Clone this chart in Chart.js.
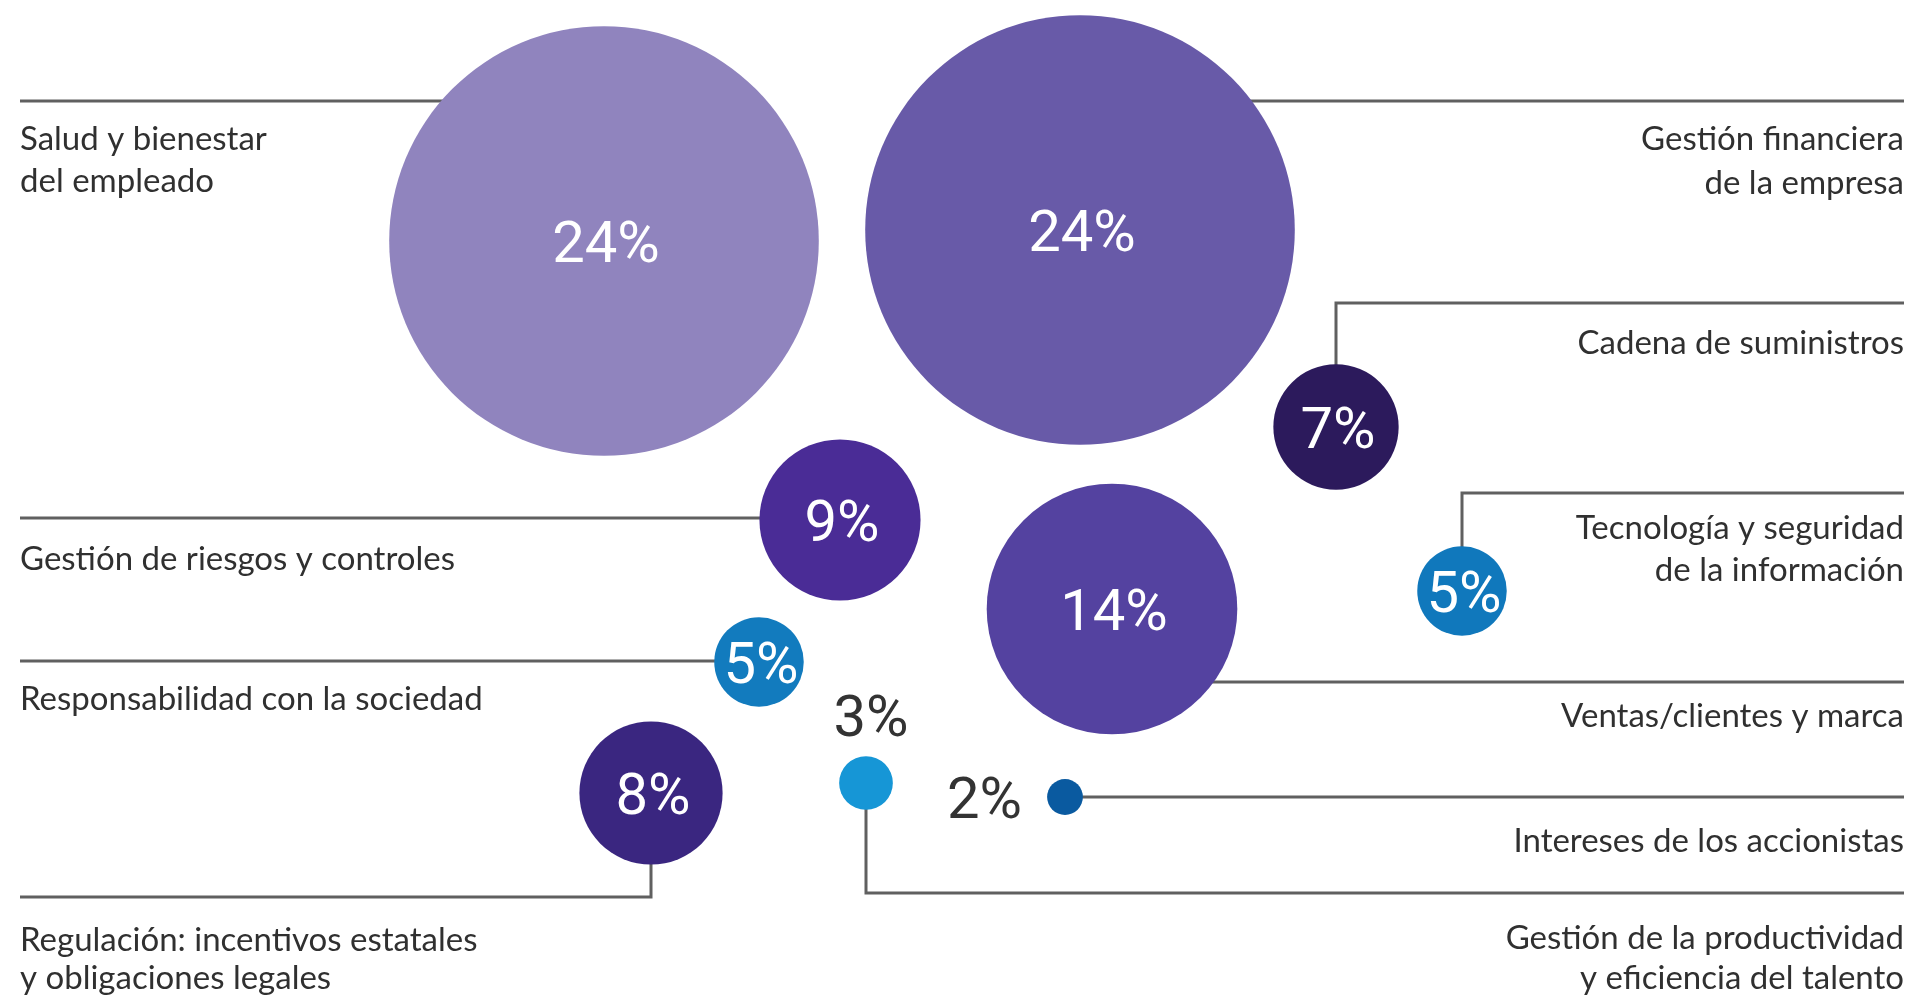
<!DOCTYPE html>
<html lang="es">
<head>
<meta charset="utf-8">
<title>Prioridades</title>
<script src="https://cdn.jsdelivr.net/npm/chart.js@4/dist/chart.umd.min.js"></script>
<style>
    html, body { margin: 0; padding: 0; background: #ffffff; }
    #wrap { width: 1917px; height: 995px; position: relative; }
</style>
</head>
<body>
<div id="wrap"><canvas id="bubbleChart"></canvas></div>
<script>
// Data
const categories = [
    ['Salud y bienestar', 'del empleado'],
    ['Gestión financiera', 'de la empresa'],
    ['Cadena de suministros'],
    ['Tecnología y seguridad', 'de la información'],
    ['Ventas/clientes y marca'],
    ['Intereses de los accionistas'],
    ['Gestión de la productividad', 'y eficiencia del talento'],
    ['Regulación: incentivos estatales', 'y obligaciones legales'],
    ['Responsabilidad con la sociedad'],
    ['Gestión de riesgos y controles']
];
const shares = [24, 24, 7, 5, 14, 2, 3, 8, 5, 9];

const colors = ['#9084be', '#685aa8', '#2c1a5c', '#1078bc', '#5442a0',
                '#0a5aa0', '#1696d6', '#3a2680', '#127bbe', '#4a2c96'];

// Layout of the infographic (design units, same grid as the page)
const bubbleX = [604, 1080, 1336, 1462, 1112, 1065, 866, 651, 759, 840];
const bubbleY = [241, 230, 427, 591, 609, 797, 783, 793, 662, 520];
const radiusPerPoint = 8.95; // bubble radius grows linearly with the share

const leaders = [
    [[604, 101], [20, 101]],
    [[1080, 101], [1904, 101]],
    [[1336, 427], [1336, 303], [1904, 303]],
    [[1462, 591], [1462, 493], [1904, 493]],
    [[1112, 682], [1904, 682]],
    [[1065, 797], [1904, 797]],
    [[866, 783], [866, 893], [1904, 893]],
    [[651, 793], [651, 897], [20, 897]],
    [[759, 661], [20, 661]],
    [[840, 518], [20, 518]]
];
const labelX = [20, 1904, 1904, 1904, 1904, 1904, 1904, 20, 20, 20];
const labelBaselines = [[150, 192], [150, 194], [354], [539, 581], [727], [852],
                        [949, 989], [951, 989], [710], [570]];
// small bubbles carry their value outside
const outsideValue = { 5: { x: 1022, y: 818, align: 'right' }, 6: { x: 871, y: 736, align: 'center' } };

const labelFont = '33px Lato';
const valueFont = '58px Roboto';

const leaderPlugin = {
    id: 'leaders',
    beforeDatasetsDraw(chart) {
        const ctx = chart.ctx;
        const sx = chart.scales.x, sy = chart.scales.y;
        ctx.save();
        ctx.strokeStyle = '#606060';
        ctx.lineWidth = 3;
        leaders.forEach(path => {
            ctx.beginPath();
            path.forEach((p, i) => {
                const px = sx.getPixelForValue(p[0]);
                const py = sy.getPixelForValue(p[1]);
                if (i === 0) ctx.moveTo(px, py); else ctx.lineTo(px, py);
            });
            ctx.stroke();
        });
        ctx.restore();
    },
    afterDatasetsDraw(chart) {
        const ctx = chart.ctx;
        const sx = chart.scales.x, sy = chart.scales.y;
        const meta = chart.getDatasetMeta(0);
        ctx.save();

        // category names
        ctx.font = labelFont;
        ctx.fillStyle = '#303030';
        ctx.textBaseline = 'alphabetic';
        categories.forEach((lines, i) => {
            ctx.textAlign = labelX[i] < 960 ? 'left' : 'right';
            lines.forEach((line, j) => {
                ctx.fillText(line, sx.getPixelForValue(labelX[i]), sy.getPixelForValue(labelBaselines[i][j]));
            });
        });

        // percentages
        ctx.font = valueFont;
        shares.forEach((v, i) => {
            const out = outsideValue[i];
            if (out) {
                ctx.fillStyle = '#333333';
                ctx.textAlign = out.align;
                ctx.textBaseline = 'alphabetic';
                ctx.fillText(v + '%', sx.getPixelForValue(out.x), sy.getPixelForValue(out.y));
            } else {
                const el = meta.data[i];
                ctx.fillStyle = '#ffffff';
                ctx.textAlign = 'center';
                ctx.textBaseline = 'middle';
                ctx.fillText(v + '%', el.x + 2, el.y + 6);
            }
        });
        ctx.restore();
    }
};

function showChart() {
    const ctx = document.getElementById('bubbleChart').getContext('2d');
    new Chart(ctx, {
        type: 'bubble',
        data: {
            labels: categories,
            datasets: [{
                data: shares.map((v, i) => ({ x: bubbleX[i], y: bubbleY[i], r: v * radiusPerPoint })),
                backgroundColor: colors,
                hoverBackgroundColor: colors,
                borderWidth: 0,
                hoverBorderWidth: 0,
                clip: false
            }]
        },
        options: {
            responsive: true,
            maintainAspectRatio: false,
            animation: false,
            events: [],
            layout: { padding: 0, autoPadding: false },
            plugins: {
                legend: { display: false },
                tooltip: { enabled: false }
            },
            scales: {
                x: { type: 'linear', min: 0, max: 1917, display: false },
                y: { type: 'linear', min: 0, max: 995, reverse: true, display: false }
            }
        },
        plugins: [leaderPlugin]
    });
}

document.fonts.load(labelFont).then(() => document.fonts.load(valueFont)).then(showChart, showChart);
</script>
</body>
</html>
